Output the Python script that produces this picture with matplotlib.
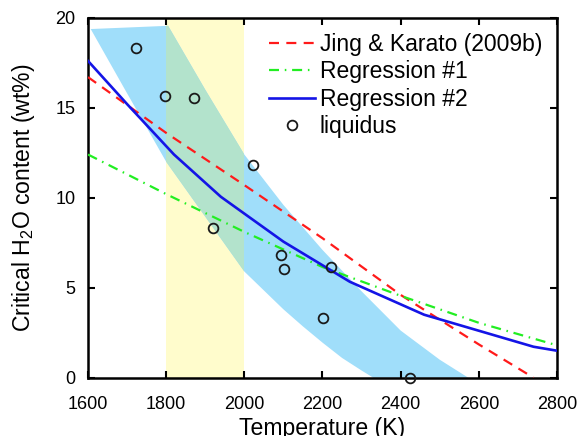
import numpy as np
import matplotlib
matplotlib.use("Agg")
import matplotlib.pyplot as plt

plt.rcParams['font.family'] = ['Liberation Sans', 'DejaVu Sans']
plt.rcParams['mathtext.fontset'] = 'custom'
plt.rcParams['mathtext.rm'] = 'Liberation Sans'
plt.rcParams['mathtext.it'] = 'Liberation Sans:italic'

# ---- data ----
band_upper_T = [1607, 1805, 1900, 2000, 2100, 2200, 2300, 2400, 2500, 2573]
band_upper_v = [19.37, 19.55, 16.0, 12.4, 9.6, 7.1, 4.8, 2.62, 1.0, 0.0]
band_lower_T = [1607, 1700, 1800, 1900, 2000, 2100, 2150, 2200, 2250, 2300, 2330]
band_lower_v = [19.37, 15.8, 12.0, 8.95, 5.9, 3.8, 2.85, 1.95, 1.1, 0.4, 0.0]

span_T = [1800, 2000]

jk_T = [1600, 1800, 2000, 2200, 2400, 2600, 2740]
jk_v = [16.7, 13.6, 10.7, 7.75, 4.6, 1.85, 0.0]

reg1_T = [1600, 1800, 2000, 2200, 2400, 2600, 2800]
reg1_v = [12.4, 10.2, 8.1, 6.15, 4.55, 3.05, 1.8]

reg2_T = [1600, 1700, 1820, 1940, 2100, 2270, 2460, 2740, 2800]
reg2_v = [17.6, 15.2, 12.4, 10.05, 7.56, 5.33, 3.5, 1.72, 1.5]

liq_T = [1723, 1798, 1872, 1921, 2021, 2093, 2101, 2202, 2222, 2425]
liq_v = [18.33, 15.65, 15.52, 8.3, 11.8, 6.82, 6.04, 3.33, 6.17, 0.0]

xticks = [1600, 1800, 2000, 2200, 2400, 2600, 2800]
yticks = [0, 5, 10, 15, 20]

# ---- figure ----
fig = plt.figure(figsize=(5.77, 4.36), dpi=100)
ax = fig.add_axes([0.1525, 0.1337, 0.8128, 0.8257])

blue_c = '#a0defa'
yellow_c = '#fffccc'
green_c = '#b3e3cc'

poly_T = np.concatenate([band_upper_T, band_lower_T[::-1]])
poly_v = np.concatenate([band_upper_v, band_lower_v[::-1]])

ysp = ax.axvspan(span_T[0], span_T[1], color=yellow_c, lw=0, zorder=1)
ax.fill(poly_T, poly_v, color=blue_c, lw=0, zorder=1.5)
ov = ax.fill(poly_T, poly_v, color=green_c, lw=0, zorder=1.6)[0]
ov.set_clip_path(ysp)

ax.plot(jk_T, jk_v, color='#ff1a1a', lw=1.6, dashes=(4.5, 3.3),
        label='Jing & Karato (2009b)', zorder=3)
ax.plot(reg1_T, reg1_v, color='#22ee22', lw=1.6, dashes=(4.5, 2.6, 0.7, 2.6),
        label='Regression #1', zorder=3)
ax.plot(reg2_T, reg2_v, color='#1414e6', lw=1.9, label='Regression #2', zorder=3.5)
ax.plot(liq_T, liq_v, ls='none', marker='o', ms=7, mfc='none', mec='#1a1a1a',
        mew=1.3, label='liquidus', zorder=4, clip_on=False)

ax.set_xlim(1600, 2800)
ax.set_ylim(0, 20)
ax.set_xticks(xticks)
ax.set_yticks(yticks)
ax.tick_params(direction='in', length=5, width=1.5, top=True, right=True,
               labelsize=13)
ax.tick_params(axis='x', pad=13)
ax.tick_params(axis='y', pad=9)
for s in ax.spines.values():
    s.set_linewidth(1.8)

ax.set_xlabel('Temperature (K)', fontsize=16.6, labelpad=3)
ax.set_ylabel('Critical H$_2$O content (wt%)', fontsize=16.6, labelpad=13)

leg = ax.legend(loc='upper left', bbox_to_anchor=(0.355, 1.0), frameon=False,
                fontsize=16.5, handlelength=2.0, handletextpad=0.2,
                labelspacing=0.2, borderaxespad=0.25)

fig.savefig('out.png', dpi=100)
